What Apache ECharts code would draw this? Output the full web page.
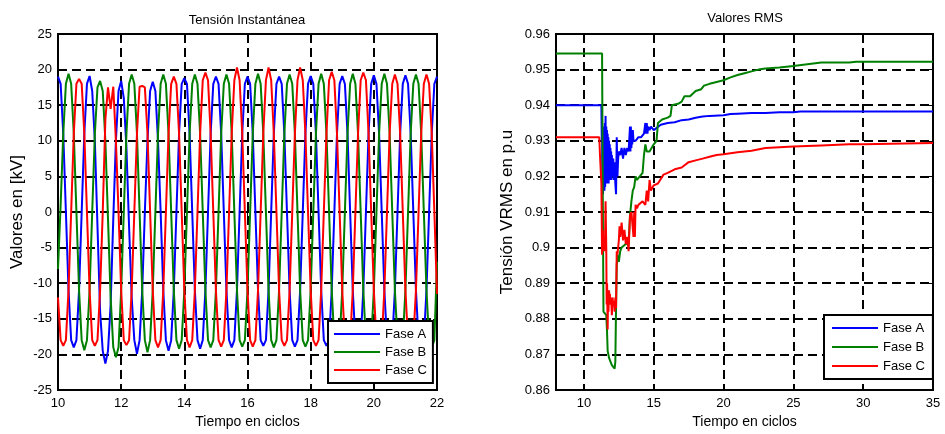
<!DOCTYPE html>
<html><head><meta charset="utf-8">
<script src="https://cdn.jsdelivr.net/npm/echarts@6/dist/echarts.min.js"></script>
<style>html,body{margin:0;padding:0;background:#fff}#c{width:945px;height:434px}</style>
</head><body><div id="c"></div>
<script>
const FONT = '"Liberation Sans", Arial, sans-serif';

// ---- Left chart: instantaneous voltage (kV), 12 samples per cycle, t from 10 to 22 cycles
const waveStart = 10;
const samplesPerCycle = 12;
const faseA_kV = [
  19, 18, 11, 0, -11, -18, -19, -18, -11, 0, 11, 18,
  19.1, 17, 10, -2, -14, -19.5, -21.3, -19.5, -13, -1, 10, 17,
  18.4, 16, 9, -2, -12, -18, -19.9, -18, -11, 0, 10, 17,
  18.3, 17, 10, 0, -11, -18, -19.5, -18, -11, 0, 11, 18,
  18.8, 18, 11, 0, -11, -18, -19.2, -18, -11, 0, 11, 18,
  19, 18, 11, 0, -11, -18, -19, -18, -11, 0, 11, 18,
  19, 18, 11, 0, -11, -18, -18.8, -18, -11, 0, 11, 18,
  19, 18, 11, 0, -11, -18, -18.9, -18, -11, 0, 11, 18,
  19.1, 18, 11, 0, -11, -18, -18.8, -18, -11, 0, 11, 18,
  19.1, 18, 11, 0, -11, -18, -18.8, -18, -11, 0, 11, 18,
  19.2, 18, 11, 0, -11, -18, -18.9, -18, -11, 0, 11, 18,
  19.2, 18, 11, 0, -11, -18, -18.9, -18, -11, 0, 11, 18,
  19
];
const faseB_kV = [
  -8, 1, 11, 18, 19.4, 18, 11, 0, -11, -18, -19.4, -18,
  -11, 0, 11, 17.5, 18.4, 17, 10, -1, -12, -19, -20.4, -19,
  -11, 0, 11, 18, 19.3, 18, 11, 0, -11, -18, -19.7, -18,
  -11, 0, 11, 18, 19.3, 18, 11, 0, -11, -18, -19.2, -18,
  -11, 0, 11, 18, 19.3, 18, 11, 0, -11, -18, -19, -18,
  -11, 0, 11, 18, 19.3, 18, 11, 0, -11, -18, -18.9, -18,
  -11, 0, 11, 18, 19.4, 18, 11, 0, -11, -18, -19, -18,
  -11, 0, 11, 18, 19.3, 18, 11, 0, -11, -18, -18.9, -18,
  -11, 0, 11, 18, 19.4, 18, 11, 0, -11, -18, -18.9, -18,
  -11, 0, 11, 18, 19.4, 18, 11, 0, -11, -18, -19, -18,
  -11, 0, 11, 18, 19.4, 18, 11, 0, -11, -18, -18.9, -18,
  -11, 0, 11, 18, 19.3, 18, 11, 0, -11, -18, -19, -18,
  -7
];
const faseC_kV = [
  -12, -18, -18.8, -18, -11, 0, 11, 18, 18.7, 18, 11, 0,
  -11, -18, -18.8, -18, -11, 0, 13, 17.5, 14.5, 17.6, 10, 0,
  -11, -18, -18.7, -18, -11, 0, 11, 17.6, 17.7, 17.5, 11, 0,
  -11, -18, -19, -18, -11, 0, 11, 18, 19, 18, 11, 0,
  -11, -18, -19, -18, -11, 0, 11, 18.5, 19.6, 18.5, 11, 0,
  -11, -18, -18.9, -18, -11, 0, 11, 18.5, 20.3, 18.5, 11, 0,
  -11, -18, -18.9, -18, -11, 0, 11, 18.5, 20.3, 18.5, 11, 0,
  -11, -18, -18.8, -18, -11, 0, 11, 18.5, 20.3, 18.5, 11, 0,
  -11, -18, -18.8, -18, -11, 0, 11, 18.5, 19.7, 18.5, 11, 0,
  -11, -18, -18.8, -18, -11, 0, 11, 18.5, 19.6, 18.5, 11, 0,
  -11, -18, -18.8, -18, -11, 0, 11, 18, 19.3, 18, 11, 0,
  -11, -18, -18.8, -18, -11, 0, 11, 18, 19.3, 18, 11, 0,
  -11.5
];

// ---- Right chart: RMS values (p.u)
const rmsTimeA = [8, 11.25, 11.28, 11.3, 11.32, 11.35, 11.37, 11.4, 11.42, 11.45, 11.47, 11.5, 11.52, 11.55, 11.57, 11.6, 11.62, 11.65, 11.67, 11.7, 11.72, 11.75, 11.77, 11.8, 11.82, 11.85, 11.87, 11.9, 11.92, 11.95, 11.97, 12.0, 12.05, 12.1, 12.15, 12.2, 12.25, 12.3, 12.35, 12.4, 12.45, 12.5, 12.6, 12.7, 12.8, 12.9, 13.0, 13.1, 13.2, 13.3, 13.33, 13.36, 13.4, 13.43, 13.46, 13.5, 13.55, 13.7, 13.9, 14.1, 14.3, 14.4, 14.45, 14.5, 14.55, 14.6, 14.7, 14.8, 15.0, 15.5, 16.0, 16.5, 17.0, 17.5, 18.0, 18.5, 19.0, 20.0, 20.5, 21.0, 22.0, 23.0, 24.0, 25.0, 25.5, 26.0, 28.0, 30.0, 35.0];
const rmsA = [0.940, 0.940, 0.930, 0.936, 0.916, 0.934, 0.915, 0.933, 0.918, 0.932, 0.916, 0.935, 0.917, 0.937, 0.918, 0.934, 0.920, 0.933, 0.918, 0.932, 0.919, 0.931, 0.918, 0.930, 0.920, 0.929, 0.919, 0.928, 0.920, 0.927, 0.919, 0.926, 0.920, 0.925, 0.919, 0.924, 0.918, 0.915, 0.931, 0.920, 0.925, 0.927, 0.926, 0.928, 0.925, 0.928, 0.926, 0.928, 0.927, 0.934, 0.927, 0.934, 0.928, 0.933, 0.929, 0.933, 0.930, 0.930, 0.931, 0.931, 0.932, 0.935, 0.932, 0.935, 0.932, 0.934, 0.933, 0.934, 0.933, 0.9345, 0.935, 0.9352, 0.9358, 0.936, 0.9365, 0.9368, 0.937, 0.9372, 0.9375, 0.9376, 0.9378, 0.9378, 0.938, 0.938, 0.9382, 0.9382, 0.9382, 0.9382, 0.9382];
const rmsTimeB = [8, 11.3, 11.35, 11.4, 11.5, 11.6, 11.65, 11.7, 11.75, 11.8, 11.9, 12.0, 12.1, 12.2, 12.25, 12.3, 12.35, 12.4, 12.5, 12.6, 12.7, 12.8, 13.0, 13.2, 13.3, 13.4, 13.5, 13.6, 13.7, 13.8, 14.0, 14.2, 14.3, 14.4, 14.5, 14.7, 15.0, 15.2, 15.3, 15.6, 16.0, 16.2, 16.3, 16.8, 17.0, 17.2, 17.6, 18.0, 18.4, 18.6, 19.0, 19.5, 20.0, 20.5, 21.0, 21.5, 22.0, 22.5, 23.0, 24.0, 25.0, 26.0, 27.0, 29.0, 29.5, 30.0, 35.0];
const rmsB = [0.9545, 0.9545, 0.915, 0.882, 0.882, 0.881, 0.877, 0.871, 0.870, 0.869, 0.868, 0.867, 0.867, 0.866, 0.868, 0.883, 0.895, 0.898, 0.896, 0.899, 0.900, 0.900, 0.901, 0.901, 0.909, 0.913, 0.916, 0.917, 0.920, 0.919, 0.920, 0.921, 0.926, 0.929, 0.927, 0.927, 0.929, 0.930, 0.935, 0.936, 0.9365, 0.937, 0.940, 0.9405, 0.941, 0.9425, 0.9425, 0.944, 0.9445, 0.9455, 0.946, 0.9465, 0.947, 0.9478, 0.9485, 0.949, 0.9495, 0.950, 0.9503, 0.9506, 0.951, 0.9515, 0.952, 0.952, 0.9522, 0.9522, 0.9522];
const rmsTimeC = [8, 11.1, 11.15, 11.25, 11.3, 11.35, 11.4, 11.45, 11.5, 11.55, 11.6, 11.63, 11.66, 11.7, 11.73, 11.76, 11.8, 11.83, 11.86, 11.9, 11.95, 12.0, 12.05, 12.1, 12.15, 12.2, 12.25, 12.3, 12.35, 12.4, 12.5, 12.55, 12.6, 12.7, 12.8, 12.9, 13.0, 13.1, 13.2, 13.3, 13.4, 13.5, 13.55, 13.6, 13.65, 13.7, 13.8, 13.9, 14.0, 14.2, 14.4, 14.5, 14.6, 14.7, 14.8, 15.0, 15.3, 15.7, 16.0, 16.5, 17.0, 17.5, 18.0, 18.5, 19.0, 19.5, 20.0, 21.0, 22.0, 23.0, 24.0, 25.0, 27.0, 29.0, 30.0, 32.0, 35.0];
const rmsC = [0.931, 0.931, 0.926, 0.918, 0.898, 0.905, 0.899, 0.903, 0.899, 0.913, 0.900, 0.884, 0.890, 0.877, 0.888, 0.882, 0.888, 0.884, 0.887, 0.884, 0.886, 0.881, 0.886, 0.884, 0.885, 0.882, 0.886, 0.883, 0.899, 0.898, 0.902, 0.906, 0.903, 0.907, 0.902, 0.905, 0.901, 0.903, 0.899, 0.909, 0.910, 0.910, 0.903, 0.910, 0.903, 0.912, 0.911, 0.912, 0.912, 0.913, 0.912, 0.916, 0.913, 0.919, 0.916, 0.9175, 0.918, 0.9205, 0.921, 0.922, 0.9225, 0.924, 0.9245, 0.925, 0.9255, 0.926, 0.9262, 0.9268, 0.9272, 0.928, 0.9282, 0.9284, 0.9287, 0.929, 0.929, 0.9292, 0.9294];
const rightXTicks = [10, 15, 20, 25, 30, 35];

const seriesNames = ['Fase A', 'Fase B', 'Fase C'];
const colors = ['#0000ff', '#008000', '#ff0000'];

const wave = arr => arr.map((v, i) => [waveStart + i / samplesPerCycle, v]);
const pairs = (t, v) => t.map((x, i) => [x, v[i]]);

const tickLabel = { color: '#000', fontSize: 13, fontFamily: FONT };
const dash = { color: '#000', type: [9, 5], width: 2 };
const tick = { show: true, inside: true, length: 4, lineStyle: { color: '#000', width: 1 } };

function mkLine(name, data, xi, yi, color) {
  return { type: 'line', name, data, xAxisIndex: xi, yAxisIndex: yi, showSymbol: false, symbol: 'none',
    lineStyle: { color, width: 2 }, itemStyle: { color }, animation: false, clip: true };
}

const legendBase = {
  orient: 'vertical', icon: 'rect', itemWidth: 46, itemHeight: 2, selectedMode: false,
  backgroundColor: '#fff', borderColor: '#000', borderWidth: 2,
  textStyle: { fontSize: 13, color: '#000', fontFamily: FONT, lineHeight: 14 },
  data: seriesNames, z: 10
};

const chart = echarts.init(document.getElementById('c'), null, { renderer: 'canvas' });
chart.setOption({
  backgroundColor: '#fff',
  animation: false,
  graphic: [
    { type: 'text', x: 247, y: 20, style: { text: 'Tensión Instantánea', align: 'center', verticalAlign: 'middle', fontSize: 13, fill: '#000', fontFamily: FONT } },
    { type: 'text', x: 745, y: 18, style: { text: 'Valores RMS', align: 'center', verticalAlign: 'middle', fontSize: 13, fill: '#000', fontFamily: FONT } }
  ],
  grid: [
    { left: 58, top: 34, width: 379, height: 359, show: true, borderColor: '#000', borderWidth: 2, backgroundColor: '#fff', containLabel: false },
    { left: 556, top: 34, width: 377, height: 359, show: true, borderColor: '#000', borderWidth: 2, backgroundColor: '#fff', containLabel: false }
  ],
  legend: [
    Object.assign({}, legendBase, { left: 328, top: 321, padding: [6, 6, 6, 6], itemGap: 4 }),
    Object.assign({}, legendBase, { left: 824, top: 315, padding: [6, 8, 6, 8], itemGap: 5 })
  ],
  xAxis: [
    { type: 'value', gridIndex: 0, min: 10, max: 22, interval: 2, name: 'Tiempo en ciclos', nameLocation: 'middle', nameGap: 25,
      nameTextStyle: { fontSize: 14, color: '#000', fontFamily: FONT },
      axisLine: { show: false }, axisTick: tick, axisLabel: Object.assign({ margin: 7 }, tickLabel), splitLine: { show: true, lineStyle: dash } },
    { type: 'value', gridIndex: 1, min: 8, max: 35, name: 'Tiempo en ciclos', nameLocation: 'middle', nameGap: 25,
      nameTextStyle: { fontSize: 14, color: '#000', fontFamily: FONT },
      axisLine: { show: false }, axisTick: Object.assign({ customValues: rightXTicks }, tick),
      axisLabel: Object.assign({ margin: 7, customValues: rightXTicks }, tickLabel), splitLine: { show: true, lineStyle: dash } },
    { type: 'value', gridIndex: 0, position: 'top', min: 10, max: 22, interval: 2, axisLine: { show: false }, axisTick: tick, axisLabel: { show: false }, splitLine: { show: false } },
    { type: 'value', gridIndex: 1, position: 'top', min: 8, max: 35, axisLine: { show: false }, axisTick: Object.assign({ customValues: rightXTicks }, tick), axisLabel: { show: false, customValues: rightXTicks }, splitLine: { show: false } }
  ],
  yAxis: [
    { type: 'value', gridIndex: 0, min: -25, max: 25, interval: 5, name: 'Valores en [kV]', nameLocation: 'middle', nameGap: 32,
      nameTextStyle: { fontSize: 17, color: '#000', fontFamily: FONT },
      axisLine: { show: false }, axisTick: tick, axisLabel: Object.assign({ margin: 6 }, tickLabel), splitLine: { show: true, lineStyle: dash } },
    { type: 'value', gridIndex: 1, min: 0.86, max: 0.96, interval: 0.01, name: 'Tensión VRMS en p.u', nameLocation: 'middle', nameGap: 40,
      nameTextStyle: { fontSize: 17, color: '#000', fontFamily: FONT },
      axisLine: { show: false }, axisTick: tick,
      axisLabel: Object.assign({ margin: 6, formatter: v => String(+v.toFixed(2)) }, tickLabel), splitLine: { show: true, lineStyle: dash } },
    { type: 'value', gridIndex: 0, position: 'right', min: -25, max: 25, interval: 5, axisLine: { show: false }, axisTick: tick, axisLabel: { show: false }, splitLine: { show: false } },
    { type: 'value', gridIndex: 1, position: 'right', min: 0.86, max: 0.96, interval: 0.01, axisLine: { show: false }, axisTick: tick, axisLabel: { show: false }, splitLine: { show: false } }
  ],
  series: [
    mkLine('Fase A', wave(faseA_kV), 0, 0, colors[0]),
    mkLine('Fase B', wave(faseB_kV), 0, 0, colors[1]),
    mkLine('Fase C', wave(faseC_kV), 0, 0, colors[2]),
    mkLine('Fase A', pairs(rmsTimeA, rmsA), 1, 1, colors[0]),
    mkLine('Fase B', pairs(rmsTimeB, rmsB), 1, 1, colors[1]),
    mkLine('Fase C', pairs(rmsTimeC, rmsC), 1, 1, colors[2])
  ]
});
</script>
</body></html>
